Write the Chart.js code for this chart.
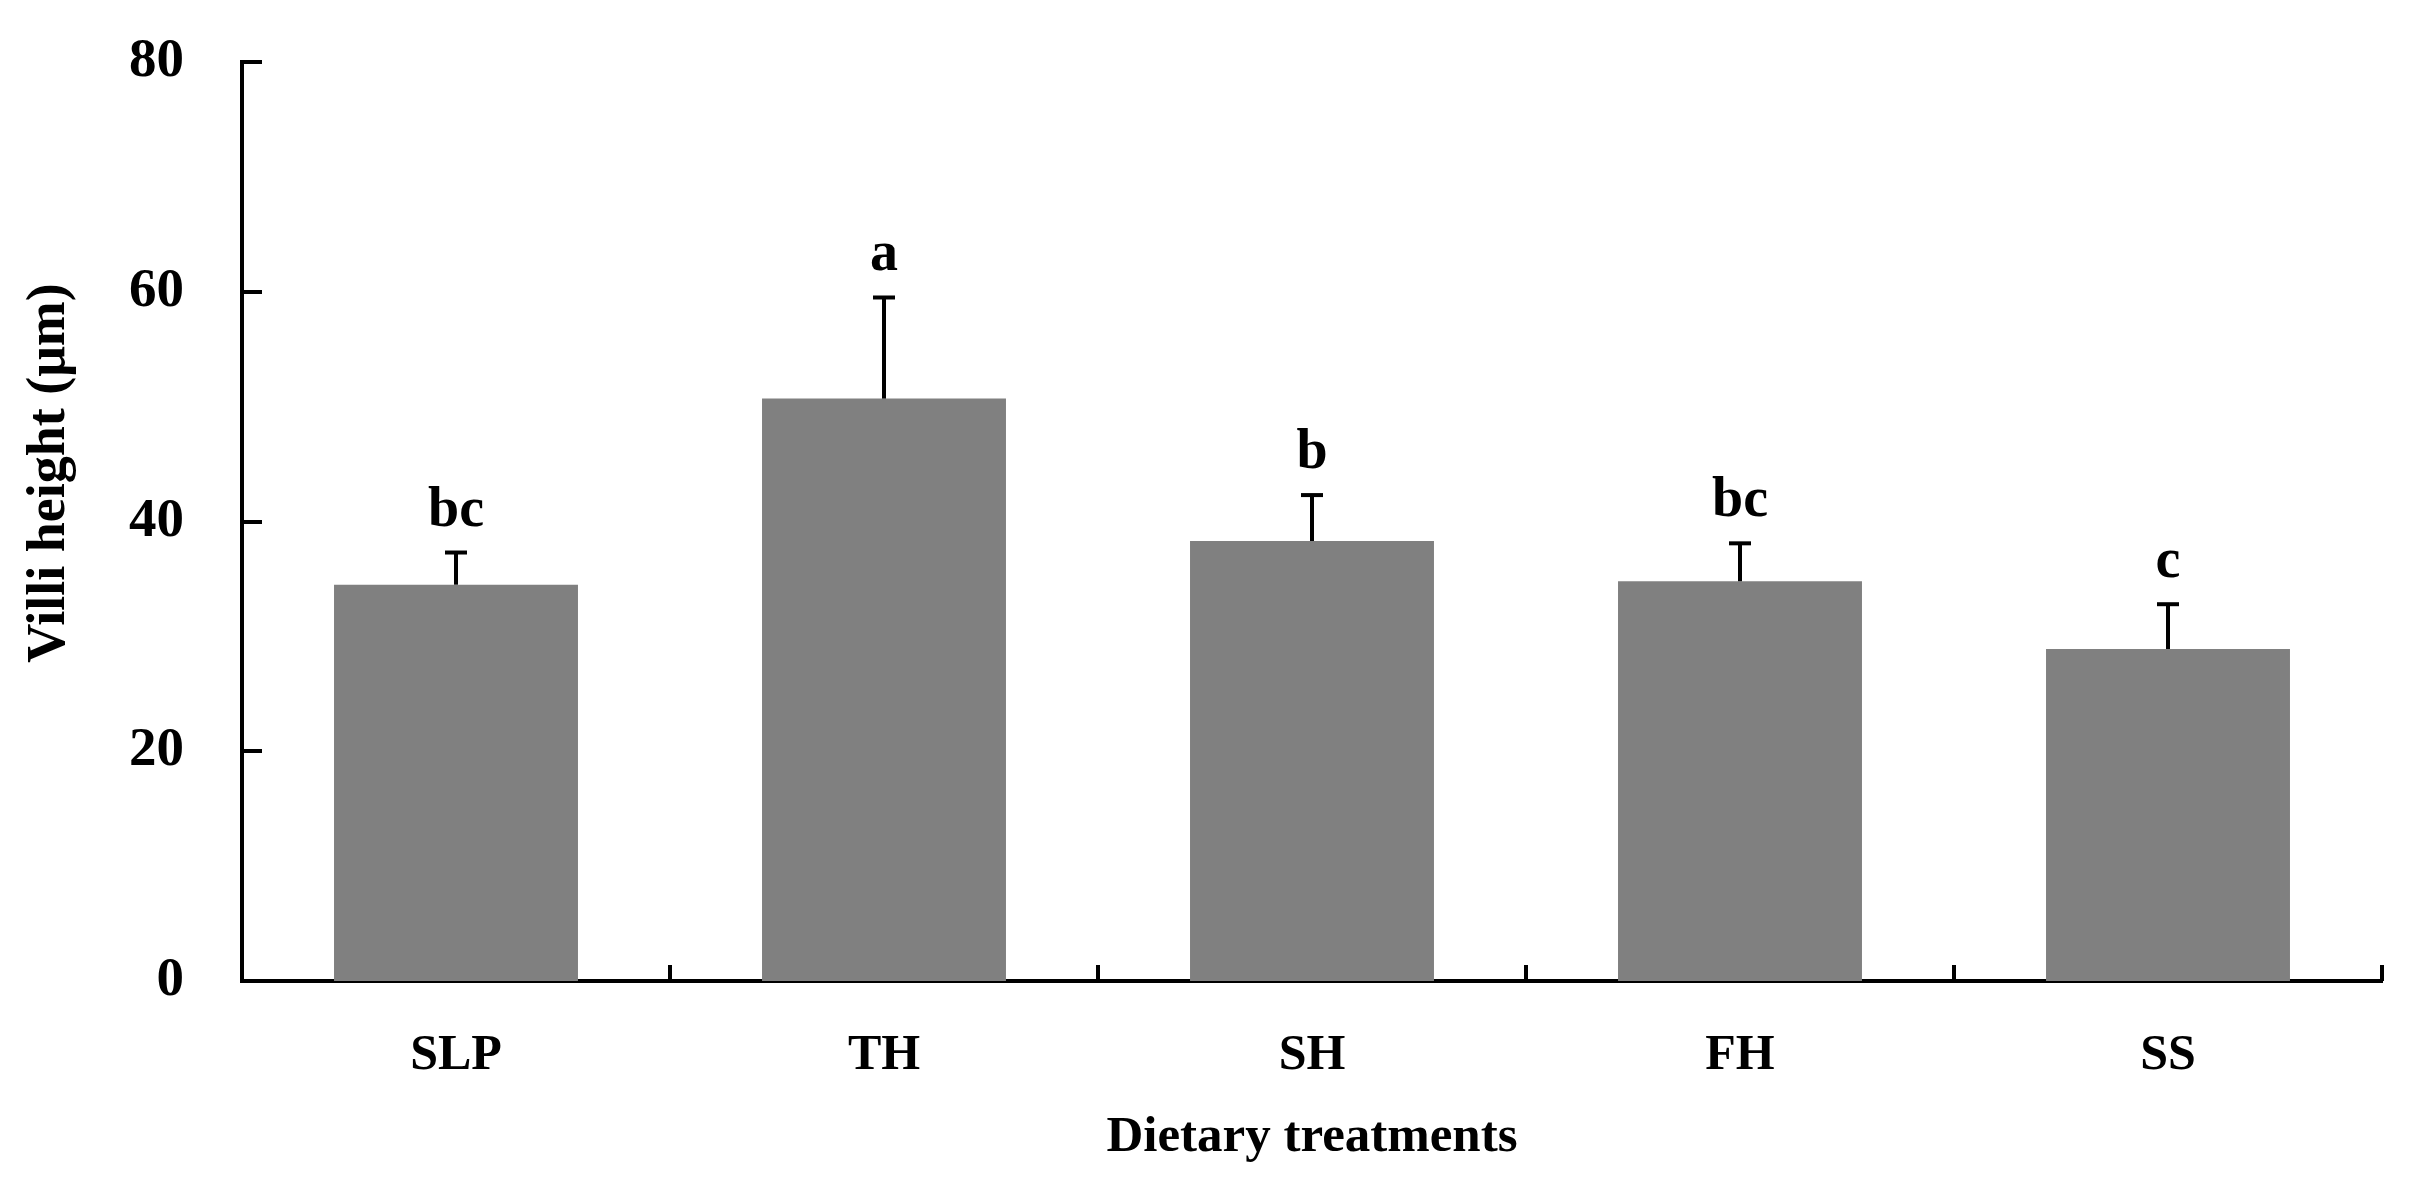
<!DOCTYPE html>
<html>
<head>
<meta charset="utf-8">
<title>Villi height</title>
<script src="https://cdn.jsdelivr.net/npm/chart.js@4.4.0/dist/chart.umd.min.js"></script>
<style>
  html, body { margin: 0; padding: 0; background: #fff; }
  #wrap { width: 2414px; height: 1200px; }
</style>
</head>
<body>
<div id="wrap"><canvas id="villiChart"></canvas></div>
<script>
// valores
const tratamentos = ['SLP', 'TH', 'SH', 'FH', 'SS'];
const alturaVilos = [34.5, 50.7, 38.3, 34.8, 28.9];
const desvios = [2.8, 8.8, 4.0, 3.3, 3.9];
const letras = ['bc', 'a', 'b', 'bc', 'c'];
const ticksY = [0, 20, 40, 60, 80];

const FONTE = '"Liberation Serif", "Times New Roman", serif';

// Desenha ticks para dentro, barras de erro, letras e títulos
const extrasPlugin = {
    id: 'extras',
    afterDraw(chart) {
        const ctx = chart.ctx;
        const xs = chart.scales.x;
        const ys = chart.scales.y;
        const area = chart.chartArea;
        ctx.save();
        ctx.strokeStyle = '#000';
        ctx.fillStyle = '#000';

        // ticks do eixo y (para dentro)
        ctx.lineWidth = 4;
        ticksY.forEach(v => {
            if (v === 0) return;
            const y = Math.round(ys.getPixelForValue(v));
            ctx.beginPath();
            ctx.moveTo(area.left, y);
            ctx.lineTo(area.left + 20, y);
            ctx.stroke();
        });

        // ticks do eixo x entre categorias
        for (let i = 1; i <= tratamentos.length; i++) {
            const x = Math.round(xs.getPixelForValue(i - 0.5));
            ctx.beginPath();
            ctx.moveTo(x, area.bottom);
            ctx.lineTo(x, area.bottom - 16);
            ctx.stroke();
        }

        // barras de erro e letras
        ctx.font = 'bold 56px ' + FONTE;
        ctx.textAlign = 'center';
        ctx.textBaseline = 'alphabetic';
        alturaVilos.forEach((v, i) => {
            const x = xs.getPixelForValue(i);
            const yBase = ys.getPixelForValue(v);
            const yTopo = ys.getPixelForValue(v + desvios[i]);
            ctx.lineWidth = 4;
            ctx.beginPath();
            ctx.moveTo(x, yBase);
            ctx.lineTo(x, yTopo);
            ctx.stroke();
            ctx.beginPath();
            ctx.moveTo(x - 11, yTopo);
            ctx.lineTo(x + 11, yTopo);
            ctx.stroke();
            ctx.fillText(letras[i], x, yTopo - 27);
        });

        // título do eixo y
        ctx.save();
        ctx.font = 'bold 54px ' + FONTE;
        ctx.translate(64, 473);
        ctx.rotate(-Math.PI / 2);
        ctx.textAlign = 'center';
        ctx.textBaseline = 'alphabetic';
        ctx.fillText('Villi height (μm)', 0, 0);
        ctx.restore();

        // título do eixo x
        ctx.font = 'bold 51px ' + FONTE;
        ctx.textAlign = 'center';
        ctx.textBaseline = 'alphabetic';
        ctx.fillText('Dietary treatments', (area.left + area.right) / 2, 1151);

        ctx.restore();
    }
};

const ctx = document.getElementById('villiChart').getContext('2d');
const villiChart = new Chart(ctx, {
    type: 'bar',
    data: {
        labels: tratamentos,
        datasets: [{
            label: 'Villi height',
            data: alturaVilos,
            backgroundColor: '#808080',
            borderWidth: 0,
            barPercentage: 1,
            categoryPercentage: 0.57
        }]
    },
    options: {
        responsive: true,
        maintainAspectRatio: false,
        devicePixelRatio: 1,
        animation: false,
        layout: {
            padding: { top: 62, right: 32, left: 0, bottom: 0 }
        },
        plugins: {
            legend: { display: false },
            tooltip: { enabled: false }
        },
        scales: {
            x: {
                z: 1,
                offset: true,
                grid: { display: false, drawTicks: false },
                border: { display: true, color: '#000', width: 4 },
                ticks: {
                    color: '#000',
                    padding: 45,
                    font: { family: FONTE, size: 50, weight: 'bold' }
                },
                afterFit(scale) {
                    scale.height = 219;
                    scale.paddingLeft = 0;
                    scale.paddingRight = 0;
                }
            },
            y: {
                z: 1,
                min: 0,
                max: 80,
                grid: { display: false, drawTicks: false },
                border: { display: true, color: '#000', width: 4 },
                afterBuildTicks(scale) {
                    scale.ticks = ticksY.map(v => ({ value: v }));
                },
                ticks: {
                    color: '#000',
                    padding: 58,
                    font: { family: FONTE, size: 55, weight: 'bold' }
                },
                afterFit(scale) {
                    scale.width = 242;
                    scale.paddingTop = 0;
                    scale.paddingBottom = 0;
                }
            }
        }
    },
    plugins: [extrasPlugin]
});
</script>
</body>
</html>
